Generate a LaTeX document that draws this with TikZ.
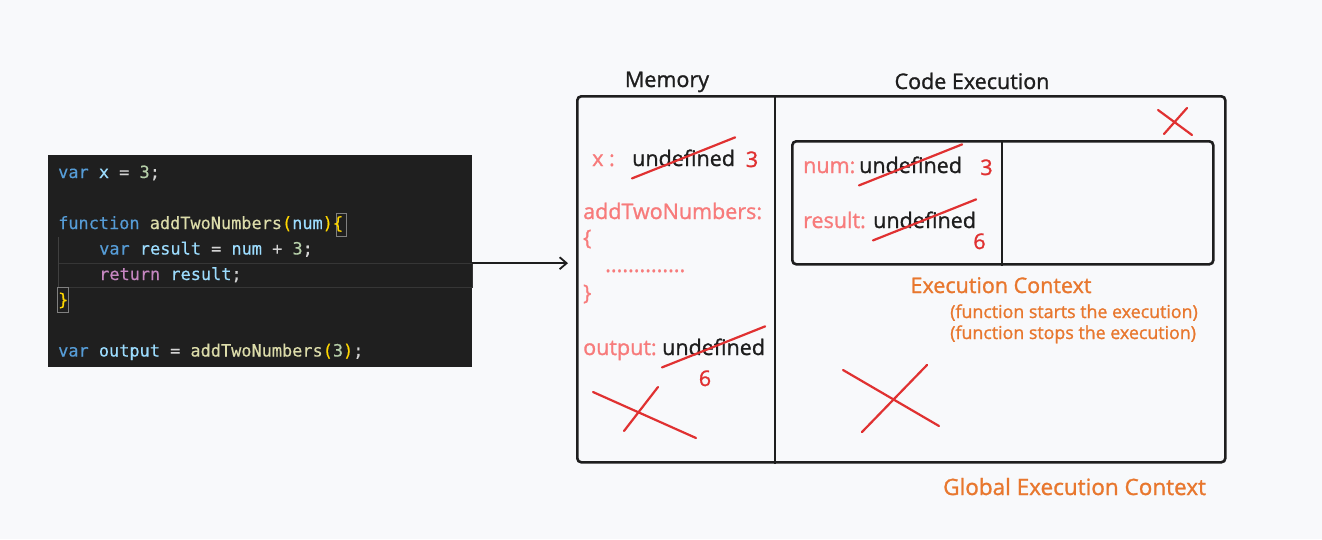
\documentclass[tikz,border=0pt]{standalone}
\usepackage{fontspec}
\setmainfont{Open Sans}
\newfontfamily\handfont{Open Sans}[FakeBold=1.2]
\newfontfamily\codefont{DejaVu Sans Mono}[FakeBold=0.4]
\usetikzlibrary{positioning,arrows.meta}
\definecolor{paper}{HTML}{F8F9FB}
\definecolor{codebg}{HTML}{1F1F1F}
\definecolor{kw}{HTML}{569CD6}
\definecolor{ident}{HTML}{9CDCFE}
\definecolor{numlit}{HTML}{B5CEA8}
\definecolor{fname}{HTML}{DCDCAA}
\definecolor{brack}{HTML}{FFD700}
\definecolor{ctrl}{HTML}{C586C0}
\definecolor{plain}{HTML}{D4D4D4}
\definecolor{guide}{HTML}{404040}
\definecolor{ink}{HTML}{1E1E1E}
\definecolor{salmon}{HTML}{F77B7B}
\definecolor{redink}{HTML}{E03131}
\definecolor{orangeink}{HTML}{E8772E}
\tikzset{
  codeline/.style={anchor=base west,inner sep=0pt,text=plain,
    font=\codefont\fontsize{16.9}{20}\selectfont},
  hand/.style={inner sep=0pt,font=\handfont\fontsize{21.5}{26}\selectfont},
  memlabel/.style={hand,anchor=base west,text=salmon},
  oldval/.style={hand,anchor=base west,text=ink},
  newval/.style={hand,anchor=base,text=redink},
  title/.style={hand,anchor=base,text=ink},
  note/.style={hand,text=orangeink},
  smallnote/.style={note,anchor=base west,font=\handfont\fontsize{17.8}{21}\selectfont},
  strike/.style={draw=redink,line width=2.2pt,line cap=round},
  box/.style={draw=ink,line width=2.6pt,rounded corners=4pt,inner sep=0pt},
  divider/.style={draw=ink,line width=2pt},
  pointer/.style={-{Straight Barb[length=7pt,width=12pt]},draw=ink,line width=1.8pt,shorten >=8pt}
}
\begin{document}
\begin{tikzpicture}[x=1pt,y=-1pt]
  \useasboundingbox (0,0) rectangle (1322,539);
  \fill[paper] (0,0) rectangle (1322,539);

  % source code
  \node[fill=codebg,anchor=north west,minimum width=424,minimum height=212,inner sep=0pt] (code) at (48,155) {};
  \draw[draw=guide!70!codebg] (58,263) rectangle (472,287);
  \draw[guide,line width=1pt] (58,237) -- (58,287);
  \draw[gray] (336,213) rectangle (346,236);
  \draw[gray] (57,287) rectangle (68,312);
  \node[codeline] (cvarx) at (58,178) {\textcolor{kw}{var} \textcolor{ident}{x} = \textcolor{numlit}{3};};
  \node[codeline] (cfunc) at (58,229) {\textcolor{kw}{function} \textcolor{fname}{addTwoNumbers}\textcolor{brack}{(}\textcolor{ident}{num}\textcolor{brack}{)\{}};
  \node[codeline] (cresult) at (99,254.5) {\textcolor{kw}{var} \textcolor{ident}{result} = \textcolor{ident}{num} + \textcolor{numlit}{3};};
  \node[codeline] (creturn) at (99,280) {\textcolor{ctrl}{return} \textcolor{ident}{result};};
  \node[codeline] (cclose) at (58,305.5) {\textcolor{brack}{\}}};
  \node[codeline] (coutput) at (58,356.5) {\textcolor{kw}{var} \textcolor{ident}{output} = \textcolor{fname}{addTwoNumbers}\textcolor{brack}{(}\textcolor{numlit}{3}\textcolor{brack}{)};};

  % global execution context
  \node[box,anchor=north west,minimum width=648,minimum height=366] (gec) at (576,95) {};
  \coordinate (memdiv) at (775,95);
  \draw[divider] (memdiv) -- (memdiv |- gec.south);
  \draw[pointer] ([yshift=-2pt]code.east) -- ([yshift=-2pt]code.east -| gec.west);
  \node[title] (memtitle) at (667,87) {Memory};
  \node[title] (cetitle) at (972,89) {Code Execution};
  \node[note,anchor=base west,font=\handfont\fontsize{22.5}{27}\selectfont] (gectitle) at (943,495) {Global Execution Context};

  % memory
  \node[memlabel] (xlabel) at (592,166) {x :};
  \node[oldval] (xval) at (632,166) {undefined};
  \node[newval] (xnew) at (752,167) {3};
  \node[memlabel] (fnlabel) at (583,219) {addTwoNumbers:};
  \node[memlabel] (fnopen) at (583,245) {\{};
  \node[memlabel] (fnbody) at (605,272) {..............};
  \node[memlabel] (fnclose) at (583,300) {\}};
  \node[memlabel] (outlabel) at (583,355) {output:};
  \node[oldval] (outval) at (662,355) {undefined};
  \node[newval] (outnew) at (705,386) {6};

  % function execution context
  \node[box,anchor=north west,minimum width=421,minimum height=123] (ec) at (791,140) {};
  \coordinate (ecdiv) at (1002,140);
  \draw[divider] (ecdiv) -- (ecdiv |- ec.south);
  \node[memlabel] (numlabel) at (803,173) {num:};
  \node[oldval] (numval) at (859,173) {undefined};
  \node[newval] (numnew) at (986.5,175) {3};
  \node[memlabel] (reslabel) at (803,228) {result:};
  \node[oldval] (resval) at (873,228) {undefined};
  \node[newval] (resnew) at (979.5,249) {6};
  \node[note,anchor=base] (ectitle) at (1001,293) {Execution Context};
  \node[smallnote] (ecstart) at (950,318) {(function starts the execution)};
  \node[smallnote] (ecstop) at (950,339) {(function stops the execution)};

  % crossed out values
  \foreach \v in {xval,outval,numval,resval}
    \draw[strike] ([yshift=-12pt]\v.south west) -- ([yshift=12pt]\v.north east);
  \foreach \a/\b/\c/\d in {593/392/696/438,658/387/624/431,843/370/939/426,927/365/862/432,1158/110/1192/135,1187/108/1164/134}
    \draw[strike] (\a,\b) -- (\c,\d);
\end{tikzpicture}
\end{document}
